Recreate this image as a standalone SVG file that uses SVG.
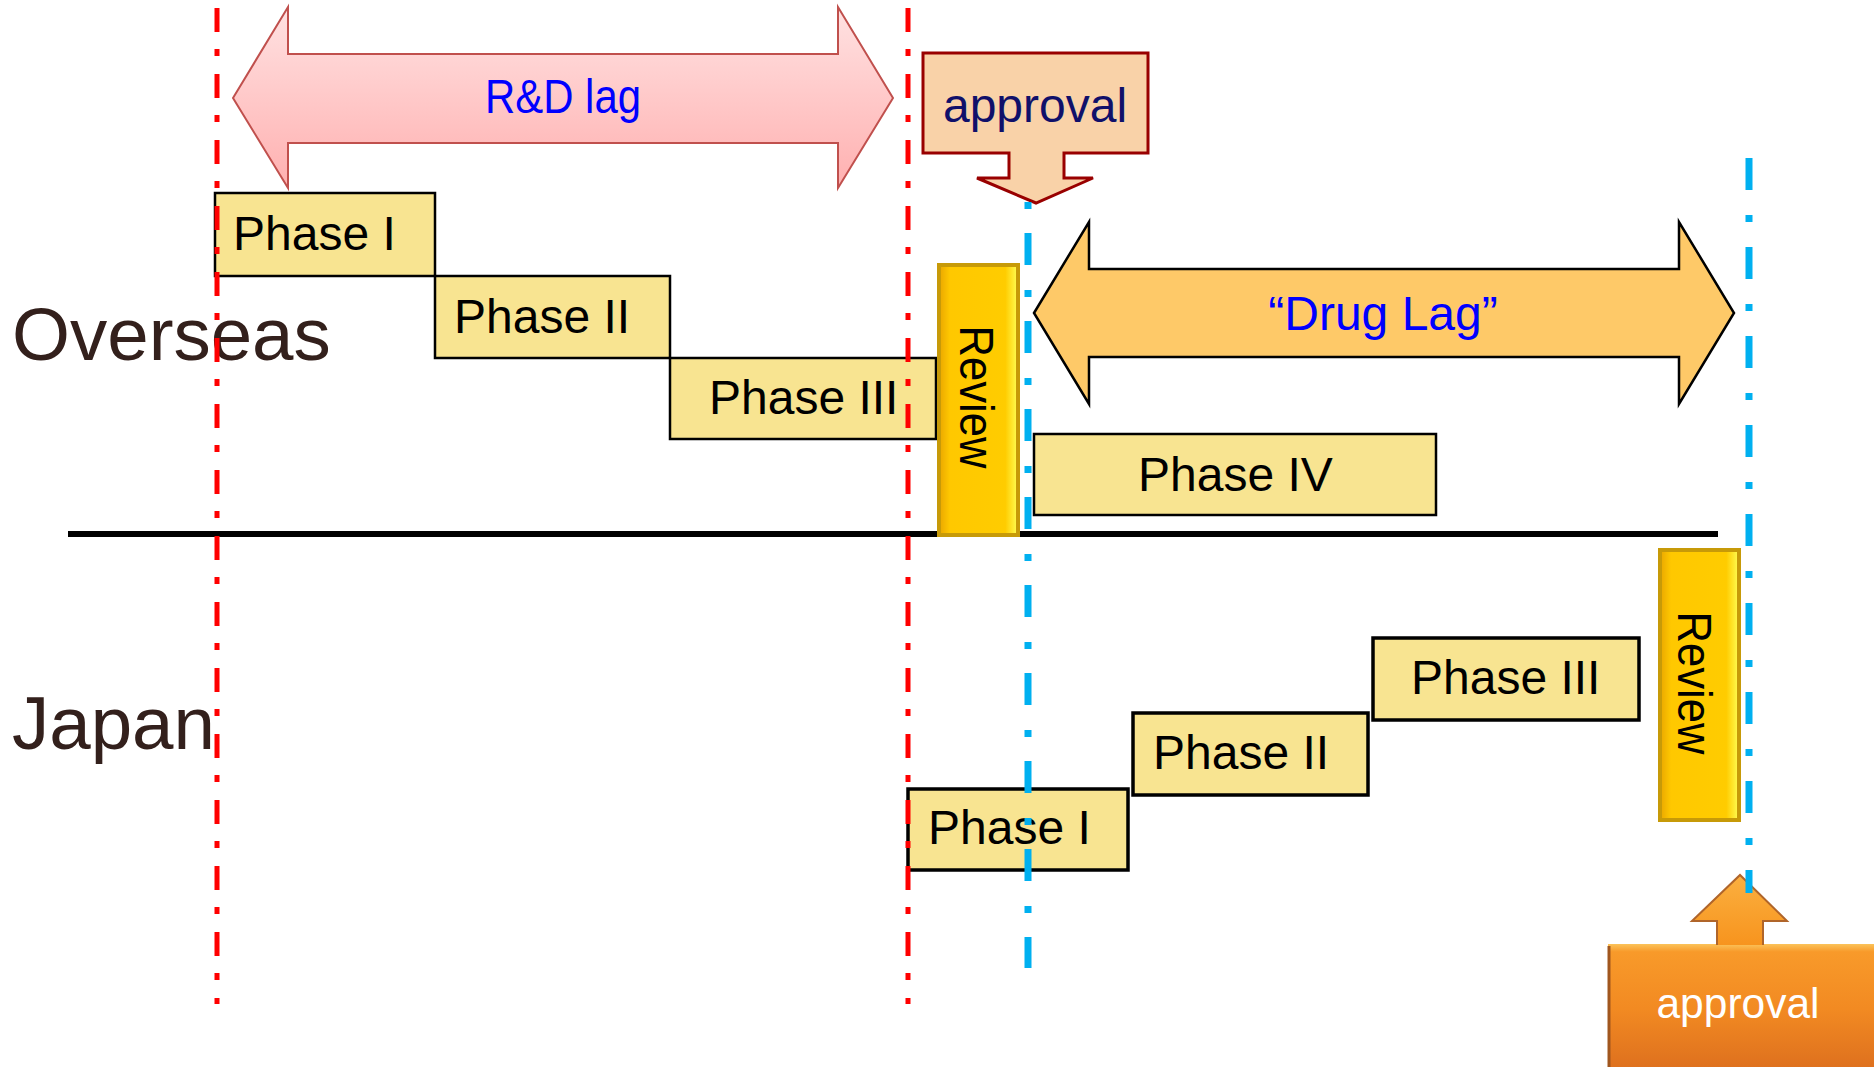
<svg xmlns="http://www.w3.org/2000/svg" width="1874" height="1067" viewBox="0 0 1874 1067">
<defs>
<linearGradient id="gPink" x1="0" y1="0" x2="0" y2="1">
<stop offset="0" stop-color="#ffe2e2"/>
<stop offset="1" stop-color="#ffb0b0"/>
</linearGradient>
<linearGradient id="gGold" x1="0" y1="0" x2="1" y2="0">
<stop offset="0" stop-color="#e9a600"/>
<stop offset="0.14" stop-color="#ffc800"/>
<stop offset="0.84" stop-color="#ffcc00"/>
<stop offset="0.93" stop-color="#ffe830"/>
<stop offset="1" stop-color="#ffff55"/>
</linearGradient>
<linearGradient id="gOrange" x1="0" y1="0" x2="0" y2="1">
<stop offset="0" stop-color="#fbc35a"/>
<stop offset="0.06" stop-color="#f89a2a"/>
<stop offset="0.5" stop-color="#f28a22"/>
<stop offset="1" stop-color="#dc6e1e"/>
</linearGradient>
<linearGradient id="gOrangeArrow" x1="0" y1="0" x2="0" y2="1">
<stop offset="0" stop-color="#fbb040"/>
<stop offset="1" stop-color="#f7941e"/>
</linearGradient>
</defs>
<style>
text{font-family:"Liberation Sans",Arial,sans-serif;}
.phase{fill:#f8e491;stroke:#000;stroke-width:2.5;}
.phaseJ{fill:#f8e491;stroke:#000;stroke-width:3.5;}
.pt{font-size:48px;fill:#000;}
.review{fill:url(#gGold);stroke:#c79a08;stroke-width:4;}
.rt{font-size:48px;fill:#000;text-anchor:middle;}
.region{font-size:74.5px;fill:#33201c;}
.red{stroke:#ff0000;stroke-width:5;fill:none;stroke-dasharray:24 17 7 18;}
.blue{stroke:#00b0f0;stroke-width:7;fill:none;}
</style>
<rect width="1874" height="1067" fill="#ffffff"/>

<g id="label-overseas"><text class="region" x="12" y="360">Overseas</text></g>
<g id="label-japan"><text class="region" x="12" y="749">Japan</text></g>

<g id="timeline-axis"><line x1="68" y1="534" x2="1718" y2="534" stroke="#000" stroke-width="6"/></g>

<g id="rd-lag">
<path d="M233,98 L288,7 L288,54 L838,54 L838,7 L893,98 L838,188 L838,143 L288,143 L288,188 Z" fill="url(#gPink)" stroke="#c0504d" stroke-width="2"/>
<text x="563" y="113" font-size="49" fill="#0000ff" text-anchor="middle" textLength="156" lengthAdjust="spacingAndGlyphs">R&amp;D lag</text>
</g>

<g id="approval-overseas">
<path d="M923,53 H1148 V153 H1064 V178 H1093 L1036,203 L977,178 H1009 V153 H923 Z" fill="#f9d2a8" stroke="#990000" stroke-width="3"/>
<text x="1035" y="122" font-size="48" fill="#10106a" text-anchor="middle">approval</text>
</g>

<g id="drug-lag">
<path d="M1034,313 L1089,222 L1089,269 L1679,269 L1679,222 L1734,313 L1679,404 L1679,357 L1089,357 L1089,404 Z" fill="#fec968" stroke="#000" stroke-width="2.5"/>
<text x="1383" y="330" font-size="48" fill="#0000ff" text-anchor="middle">“Drug Lag”</text>
</g>

<g id="ov-phase1"><rect class="phase" x="215" y="193" width="220" height="83"/><text class="pt" x="233" y="250">Phase I</text></g>
<g id="ov-phase2"><rect class="phase" x="435" y="276" width="235" height="82"/><text class="pt" x="454" y="333">Phase II</text></g>
<g id="ov-phase3"><rect class="phase" x="670" y="358" width="266" height="81"/><text class="pt" x="709" y="414">Phase III</text></g>
<g id="ov-review"><rect class="review" x="939" y="265" width="79" height="270"/><text class="rt" transform="translate(960,397) rotate(90)" textLength="143" lengthAdjust="spacingAndGlyphs">Review</text></g>
<g id="ov-phase4"><rect class="phase" x="1034" y="434" width="402" height="81" stroke-width="3"/><text class="pt" x="1138" y="491">Phase IV</text></g>

<g id="jp-phase1"><rect class="phaseJ" x="908" y="789" width="220" height="81"/><text class="pt" x="928" y="844">Phase I</text></g>
<g id="jp-phase2"><rect class="phaseJ" x="1133" y="713" width="235" height="82"/><text class="pt" x="1153" y="769">Phase II</text></g>
<g id="jp-phase3"><rect class="phaseJ" x="1373" y="638" width="266" height="82"/><text class="pt" x="1411" y="694">Phase III</text></g>
<g id="jp-review"><rect class="review" x="1660" y="550" width="79" height="270"/><text class="rt" transform="translate(1678,683) rotate(90)" textLength="143" lengthAdjust="spacingAndGlyphs">Review</text></g>

<g id="approval-japan">
<rect x="1608" y="944" width="280" height="130" fill="url(#gOrange)"/>
<line x1="1609" y1="946" x2="1609" y2="1067" stroke="#a0561e" stroke-width="3"/>
<path d="M1717,945 V921 H1692 L1740,875 L1787,921 H1763 V945" fill="url(#gOrangeArrow)" stroke="#b0652a" stroke-width="2"/>
<text x="1738" y="1018" font-size="42.5" fill="#ffffff" text-anchor="middle">approval</text>
</g>

<g id="connectors">
<line class="red" x1="217" y1="8" x2="217" y2="1004"/>
<line class="red" x1="908" y1="8" x2="908" y2="1004"/>
<line class="blue" x1="1028" y1="202" x2="1028" y2="968" stroke-dasharray="7 24 32 25"/>
<line class="blue" x1="1749" y1="158" x2="1749" y2="893" stroke-dasharray="32 25 7 25"/>
</g>
</svg>
